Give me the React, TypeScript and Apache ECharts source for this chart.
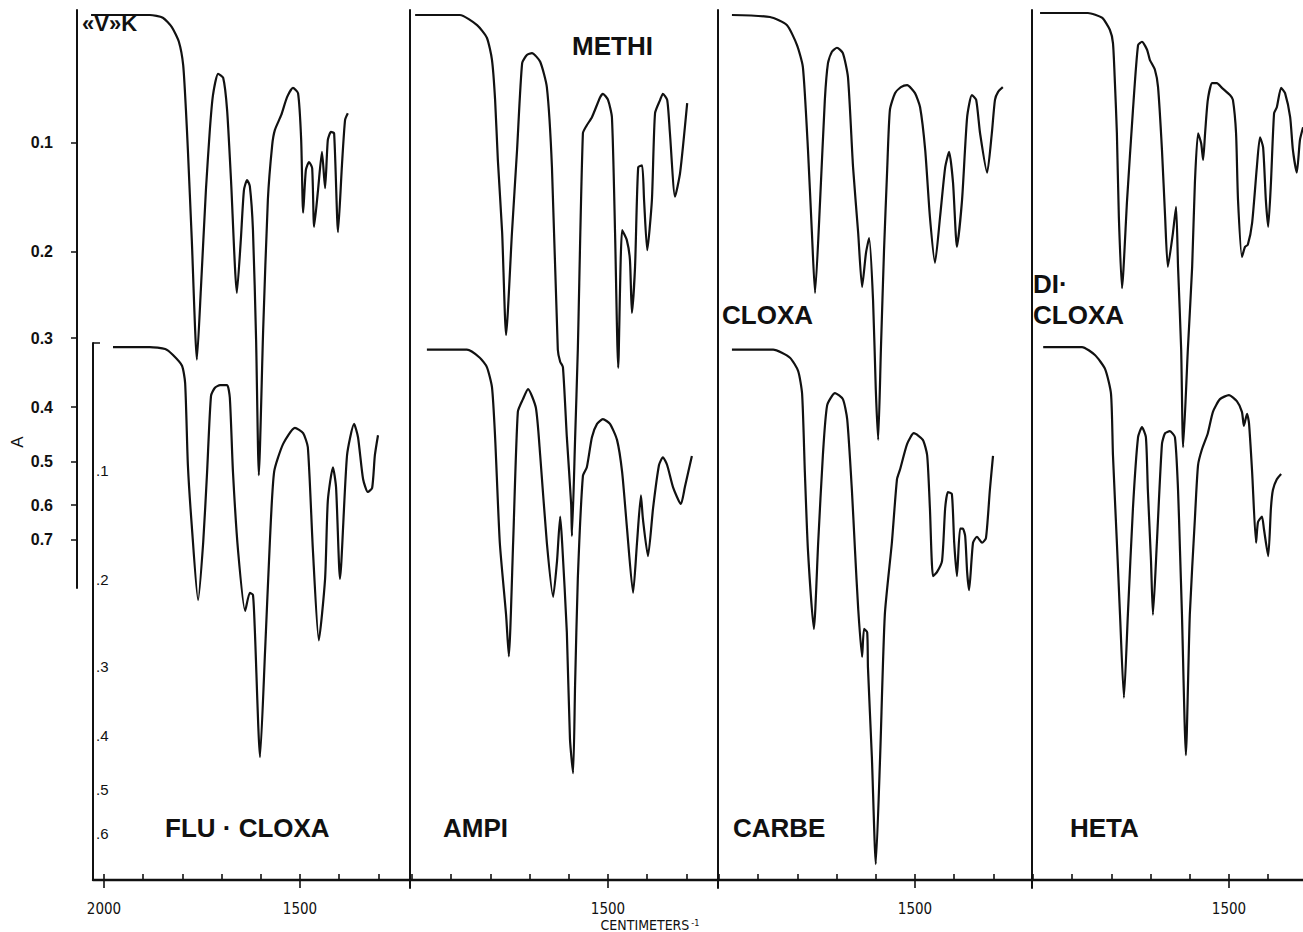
import { useEffect, useRef } from "react";
import * as echarts from "echarts";

// ---- Data: IR spectra, [wavenumber (cm-1), transmittance] ----
const vkSpectrum: [number, number][] = [
  [2033, 0.985], [1883, 0.985], [1850, 0.981], [1827, 0.967], [1809, 0.945], [1798, 0.91], [1791, 0.843],
  [1786, 0.783], [1776, 0.648], [1763, 0.469], [1753, 0.573], [1740, 0.723], [1730, 0.813], [1722, 0.865],
  [1709, 0.897], [1696, 0.891], [1686, 0.843], [1676, 0.738], [1661, 0.569], [1651, 0.648], [1643, 0.723],
  [1635, 0.738], [1628, 0.729], [1620, 0.663], [1612, 0.499], [1605, 0.296], [1594, 0.513], [1582, 0.708],
  [1571, 0.79], [1564, 0.813], [1548, 0.835], [1533, 0.862], [1518, 0.876], [1505, 0.868], [1497, 0.798],
  [1492, 0.689], [1485, 0.753], [1477, 0.765], [1469, 0.756], [1464, 0.668], [1454, 0.723], [1444, 0.78],
  [1436, 0.726], [1429, 0.798], [1421, 0.81], [1413, 0.808], [1403, 0.66], [1393, 0.76], [1385, 0.828],
  [1378, 0.838],
];

const fluCloxaSpectrum: [number, number][] = [
  [1977, 0.979], [1883, 0.979], [1844, 0.976], [1824, 0.967], [1801, 0.951], [1793, 0.925], [1786, 0.802],
  [1776, 0.711], [1760, 0.6], [1747, 0.686], [1737, 0.792], [1727, 0.906], [1717, 0.918], [1704, 0.922],
  [1686, 0.922], [1679, 0.903], [1671, 0.792], [1658, 0.674], [1640, 0.584], [1628, 0.611], [1620, 0.608],
  [1615, 0.552], [1602, 0.365], [1589, 0.525], [1577, 0.686], [1566, 0.792], [1543, 0.834], [1513, 0.858],
  [1492, 0.85], [1480, 0.829], [1467, 0.674], [1452, 0.54], [1436, 0.632], [1429, 0.749], [1416, 0.799],
  [1408, 0.769], [1398, 0.632], [1380, 0.817], [1362, 0.864], [1352, 0.844], [1339, 0.781], [1327, 0.762],
  [1316, 0.768], [1309, 0.817], [1301, 0.847],
];

const methiSpectrum: [number, number][] = [
  [1992, 0.985], [1878, 0.985], [1834, 0.97], [1809, 0.951], [1796, 0.918], [1788, 0.858], [1781, 0.768],
  [1770, 0.659], [1760, 0.506], [1745, 0.659], [1732, 0.783], [1719, 0.913], [1707, 0.925], [1694, 0.928],
  [1673, 0.915], [1656, 0.877], [1643, 0.757], [1628, 0.484], [1622, 0.466], [1615, 0.458], [1605, 0.353],
  [1594, 0.253], [1592, 0.205], [1584, 0.349], [1577, 0.484], [1564, 0.808], [1554, 0.82], [1541, 0.832],
  [1520, 0.862], [1513, 0.867], [1500, 0.858], [1490, 0.832], [1482, 0.659], [1474, 0.457], [1464, 0.663],
  [1452, 0.648], [1444, 0.618], [1439, 0.539], [1431, 0.608], [1423, 0.757], [1413, 0.76], [1408, 0.708],
  [1400, 0.633], [1388, 0.708], [1380, 0.838], [1367, 0.858], [1360, 0.867], [1349, 0.858], [1342, 0.808],
  [1329, 0.713], [1316, 0.749], [1298, 0.853],
];

const ampiSpectrum: [number, number][] = [
  [1962, 0.975], [1860, 0.975], [1827, 0.963], [1809, 0.949], [1796, 0.919], [1788, 0.844], [1776, 0.686],
  [1760, 0.578], [1753, 0.516], [1742, 0.686], [1730, 0.882], [1717, 0.901], [1704, 0.916], [1684, 0.888],
  [1673, 0.817], [1656, 0.686], [1640, 0.605], [1630, 0.659], [1622, 0.725], [1617, 0.686], [1605, 0.552],
  [1597, 0.392], [1589, 0.341], [1584, 0.472], [1577, 0.632], [1564, 0.786], [1554, 0.799], [1541, 0.844],
  [1528, 0.864], [1513, 0.871], [1495, 0.864], [1477, 0.84], [1464, 0.792], [1452, 0.711], [1436, 0.611],
  [1426, 0.686], [1416, 0.757], [1411, 0.722], [1398, 0.666], [1385, 0.738], [1370, 0.802], [1360, 0.814],
  [1349, 0.802], [1334, 0.769], [1314, 0.744], [1304, 0.769], [1286, 0.816],
];

const cloxaSpectrum: [number, number][] = [
  [1967, 0.985], [1870, 0.982], [1827, 0.97], [1801, 0.94], [1786, 0.907], [1773, 0.783], [1763, 0.659],
  [1755, 0.569], [1742, 0.708], [1730, 0.858], [1722, 0.913], [1712, 0.93], [1699, 0.936], [1684, 0.928],
  [1671, 0.892], [1658, 0.757], [1645, 0.659], [1635, 0.578], [1625, 0.629], [1617, 0.651], [1607, 0.558],
  [1600, 0.424], [1594, 0.349], [1587, 0.484], [1579, 0.633], [1571, 0.753], [1564, 0.843], [1551, 0.868],
  [1536, 0.877], [1520, 0.88], [1500, 0.868], [1487, 0.847], [1474, 0.783], [1462, 0.683], [1449, 0.614],
  [1436, 0.683], [1423, 0.757], [1413, 0.78], [1403, 0.734], [1393, 0.638], [1380, 0.708], [1367, 0.832],
  [1355, 0.865], [1344, 0.858], [1334, 0.808], [1316, 0.749], [1304, 0.808], [1296, 0.858], [1288, 0.87],
  [1276, 0.877],
];

const carbeSpectrum: [number, number][] = [
  [1967, 0.975], [1862, 0.975], [1819, 0.963], [1798, 0.943], [1788, 0.909], [1781, 0.792], [1773, 0.674],
  [1758, 0.557], [1747, 0.686], [1735, 0.817], [1724, 0.892], [1704, 0.91], [1684, 0.901], [1673, 0.871],
  [1661, 0.765], [1653, 0.674], [1645, 0.588], [1635, 0.515], [1630, 0.557], [1622, 0.552], [1620, 0.499],
  [1610, 0.365], [1600, 0.205], [1589, 0.365], [1577, 0.578], [1559, 0.686], [1546, 0.781], [1538, 0.796],
  [1520, 0.834], [1503, 0.85], [1480, 0.84], [1469, 0.817], [1462, 0.738], [1454, 0.636], [1444, 0.642],
  [1431, 0.659], [1423, 0.738], [1416, 0.762], [1406, 0.759], [1400, 0.686], [1393, 0.636], [1385, 0.707],
  [1378, 0.707], [1372, 0.696], [1367, 0.642], [1362, 0.615], [1352, 0.686], [1342, 0.695], [1329, 0.686],
  [1319, 0.693], [1309, 0.765], [1301, 0.816],
];

const dicloxaSpectrum: [number, number][] = [
  [1982, 0.988], [1860, 0.988], [1824, 0.981], [1804, 0.963], [1796, 0.943], [1791, 0.883], [1786, 0.808],
  [1781, 0.683], [1773, 0.576], [1760, 0.708], [1745, 0.843], [1732, 0.94], [1722, 0.945], [1709, 0.933],
  [1702, 0.918], [1689, 0.903], [1681, 0.877], [1671, 0.783], [1663, 0.683], [1656, 0.608], [1643, 0.659],
  [1635, 0.698], [1630, 0.608], [1622, 0.484], [1617, 0.338], [1605, 0.484], [1594, 0.608], [1587, 0.734],
  [1579, 0.808], [1571, 0.793], [1566, 0.768], [1561, 0.808], [1554, 0.858], [1543, 0.883], [1531, 0.883],
  [1518, 0.876], [1497, 0.865], [1490, 0.858], [1482, 0.808], [1477, 0.708], [1467, 0.623], [1459, 0.638],
  [1452, 0.641], [1441, 0.674], [1429, 0.757], [1421, 0.802], [1413, 0.787], [1406, 0.708], [1400, 0.668],
  [1393, 0.734], [1385, 0.838], [1378, 0.847], [1367, 0.876], [1357, 0.868], [1344, 0.832], [1337, 0.783],
  [1327, 0.749], [1319, 0.798], [1311, 0.817],
];

const hetaSpectrum: [number, number][] = [
  [1974, 0.979], [1875, 0.979], [1842, 0.967], [1816, 0.946], [1801, 0.909], [1796, 0.817], [1786, 0.686],
  [1778, 0.578], [1768, 0.454], [1758, 0.578], [1745, 0.738], [1732, 0.844], [1722, 0.859], [1712, 0.844],
  [1707, 0.765], [1699, 0.659], [1694, 0.578], [1684, 0.686], [1671, 0.834], [1663, 0.85], [1651, 0.853],
  [1638, 0.844], [1630, 0.765], [1625, 0.674], [1620, 0.578], [1610, 0.368], [1600, 0.578], [1587, 0.722],
  [1579, 0.802], [1569, 0.826], [1554, 0.85], [1541, 0.882], [1523, 0.901], [1500, 0.907], [1480, 0.898],
  [1467, 0.882], [1462, 0.861], [1454, 0.879], [1449, 0.865], [1441, 0.792], [1431, 0.686], [1426, 0.717],
  [1416, 0.725], [1411, 0.707], [1400, 0.666], [1393, 0.738], [1388, 0.765], [1378, 0.781], [1367, 0.789],
];

const topLabels = ["«V»K", "METHI", "CLOXA", "CLOXA"];
const bottomLabels = ["FLU · CLOXA", "AMPI", "CARBE", "HETA"];
const A_TICKS = [0.1, 0.2, 0.3, 0.4, 0.5, 0.6, 0.7];
const B_TICKS = [0.1, 0.2, 0.3, 0.4, 0.5, 0.6];
const WAVENUMBER_TICKS = [2000, 1900, 1800, 1700, 1600, 1500, 1400, 1300];
const MAJOR_TICKS = [2000, 1500];

// ---- Layout ----
const INK = "#111";
const FONT = "'Liberation Sans', Arial, sans-serif";
const NARROW = "'Liberation Sans Narrow', 'DejaVu Sans Condensed', 'Liberation Sans', sans-serif";
const PX_PER_CM = 0.392;
const PX_PER_T = 668;
const TOP_ZERO = 5;
const BOTTOM_ZERO = 333;
const FRAME_TOP = 10;
const A_AXIS_X = 77;
const A_AXIS_BOTTOM = 588;
const BOUNDARY_BOTTOM = 888;
const BOTTOM_GRID_TOP = 343;
const AXIS_Y = 880;
const panels = [
  { left: 93, right: 410, x1500: 300 },
  { left: 410, right: 718, x1500: 608 },
  { left: 718, right: 1032, x1500: 915 },
  { left: 1032, right: 1303, x1500: 1229 },
];
const topSpectra = [vkSpectrum, methiSpectrum, cloxaSpectrum, dicloxaSpectrum];
const bottomSpectra = [fluCloxaSpectrum, ampiSpectrum, carbeSpectrum, hetaSpectrum];

const wnAt = (px: number, x1500: number) => 1500 + (x1500 - px) / PX_PER_CM;
const tAt = (px: number, zero: number) => 1 - (px - zero) / PX_PER_T;
const tOfA = (a: number) => Math.pow(10, -a);
const aOfT = (t: number) => -Math.log10(t);

function buildOption(): any {
  const grids: any[] = [];
  const xAxes: any[] = [];
  const yAxes: any[] = [];
  const series: any[] = [];

  panels.forEach((p, i) => {
    const left = i === 0 ? A_AXIS_X : p.left;
    const bottomPx = i === 0 ? A_AXIS_BOTTOM : BOUNDARY_BOTTOM;
    grids.push({ left, top: FRAME_TOP, width: p.right - left, height: bottomPx - FRAME_TOP, outerBoundsMode: "none" });
    xAxes.push({
      gridIndex: i, type: "value", inverse: true, show: false,
      min: wnAt(p.right, p.x1500), max: wnAt(left, p.x1500),
    });
    const yTop: any = {
      gridIndex: i, type: "value",
      min: tAt(bottomPx, TOP_ZERO), max: tAt(FRAME_TOP, TOP_ZERO),
      axisLine: { show: true, onZero: false, lineStyle: { color: INK, width: 2 } },
      axisTick: { show: false }, axisLabel: { show: false }, splitLine: { show: false },
    };
    if (i === 0) {
      yTop.axisTick = { show: true, length: 6, customValues: A_TICKS.map(tOfA), lineStyle: { color: INK, width: 1.5 } };
      yTop.axisLabel = {
        show: true, customValues: A_TICKS.map(tOfA), margin: 24,
        formatter: (v: number) => aOfT(v).toFixed(1),
        color: INK, fontSize: 16, fontWeight: "bold", fontFamily: FONT,
      };
    }
    yAxes.push(yTop);
    series.push({
      type: "line", xAxisIndex: i, yAxisIndex: i, data: topSpectra[i], showSymbol: false,
      smooth: 0.2, silent: true, lineStyle: { color: INK, width: 2.2 },
    });
  });

  panels.forEach((p, i) => {
    const gi = 4 + i;
    grids.push({
      left: p.left, top: BOTTOM_GRID_TOP, width: p.right - p.left, height: AXIS_Y - BOTTOM_GRID_TOP,
      outerBoundsMode: "none",
    });
    const min = wnAt(p.right, p.x1500);
    const max = wnAt(p.left, p.x1500);
    const ticks = WAVENUMBER_TICKS.filter((v) => v >= min && v <= max);
    const majors = MAJOR_TICKS.filter((v) => v > min && v < max - 10);
    xAxes.push({
      gridIndex: gi, type: "value", inverse: true, position: "bottom", min, max,
      axisLine: { show: true, onZero: false, lineStyle: { color: INK, width: 2.4 } },
      axisTick: { show: true, inside: true, length: 6, customValues: ticks, lineStyle: { color: INK, width: 1.6 } },
      axisLabel: {
        show: true, customValues: majors, formatter: (v: number) => String(v), margin: 21,
        color: INK, fontSize: 15, fontFamily: NARROW,
      },
      splitLine: { show: false },
    });
    const yBottom: any = {
      gridIndex: gi, type: "value",
      min: tAt(AXIS_Y, BOTTOM_ZERO), max: tAt(BOTTOM_GRID_TOP, BOTTOM_ZERO),
      show: i === 0,
      axisLine: { show: true, onZero: false, lineStyle: { color: INK, width: 2 } },
      axisTick: {
        show: true, inside: true, length: 7,
        customValues: [tAt(BOTTOM_GRID_TOP, BOTTOM_ZERO)], lineStyle: { color: INK, width: 1.5 },
      },
      axisLabel: {
        show: true, inside: true, margin: 3, customValues: B_TICKS.map(tOfA),
        formatter: (v: number) => "." + Math.round(aOfT(v) * 10),
        color: INK, fontSize: 15, fontFamily: FONT,
      },
      splitLine: { show: false },
    };
    yAxes.push(yBottom);
    series.push({
      type: "line", xAxisIndex: gi, yAxisIndex: gi, data: bottomSpectra[i], showSymbol: false,
      smooth: 0.2, silent: true, lineStyle: { color: INK, width: 2.2 },
    });
  });

  // downward major ticks
  panels.forEach((p, i) => {
    const min = wnAt(p.right, p.x1500);
    const max = wnAt(p.left, p.x1500);
    xAxes.push({
      gridIndex: 4 + i, type: "value", inverse: true, position: "bottom", min, max,
      axisLine: { show: false },
      axisTick: {
        show: true, inside: false, length: 8,
        customValues: MAJOR_TICKS.filter((v) => v > min && v < max - 10),
        lineStyle: { color: INK, width: 1.6 },
      },
      axisLabel: { show: false }, splitLine: { show: false },
    });
  });

  const labelStyle = (text: string, size: number) => ({
    text, fill: INK, fontSize: size, fontWeight: "bold", fontFamily: FONT,
    textAlign: "left", textVerticalAlign: "middle",
  });

  const graphic: any[] = [
    { type: "text", x: 82, y: 23, style: labelStyle(topLabels[0], 22) },
    { type: "text", x: 572, y: 46, style: labelStyle(topLabels[1], 26) },
    { type: "text", x: 722, y: 315, style: labelStyle(topLabels[2], 26) },
    { type: "text", x: 1033, y: 284, style: labelStyle("DI·", 26) },
    { type: "text", x: 1033, y: 315, style: labelStyle(topLabels[3], 26) },
    { type: "text", x: 165, y: 828, style: labelStyle(bottomLabels[0], 26) },
    { type: "text", x: 443, y: 828, style: labelStyle(bottomLabels[1], 26) },
    { type: "text", x: 733, y: 828, style: labelStyle(bottomLabels[2], 26) },
    { type: "text", x: 1070, y: 828, style: labelStyle(bottomLabels[3], 26) },
    {
      type: "text", x: 17, y: 442, rotation: Math.PI / 2,
      style: { text: "A", fill: INK, fontSize: 17, fontFamily: FONT, textAlign: "center", textVerticalAlign: "middle" },
    },
    {
      type: "text", x: 650, y: 925,
      style: {
        text: "{a|CENTIMETERS}{b|-1}", textAlign: "center", textVerticalAlign: "middle",
        rich: {
          a: { fontSize: 14, fontFamily: NARROW, fill: INK, color: INK, lineHeight: 14 },
          b: { fontSize: 9, fontFamily: NARROW, fill: INK, color: INK, padding: [0, 0, 4, 2], lineHeight: 10 },
        },
      },
    },
  ];

  return {
    animation: false,
    backgroundColor: "#fff",
    grid: grids,
    xAxis: xAxes,
    yAxis: yAxes,
    series,
    graphic,
  };
}

export default function App() {
  const ref = useRef<HTMLDivElement>(null);
  useEffect(() => {
    if (!ref.current) return;
    const chart = echarts.init(ref.current, undefined, { renderer: "svg" });
    chart.setOption(buildOption());
    return () => chart.dispose();
  }, []);
  return (
    <div
      ref={ref}
      style={{ position: "fixed", left: 0, top: 0, width: 1303, height: 932, background: "#fff" }}
    />
  );
}
